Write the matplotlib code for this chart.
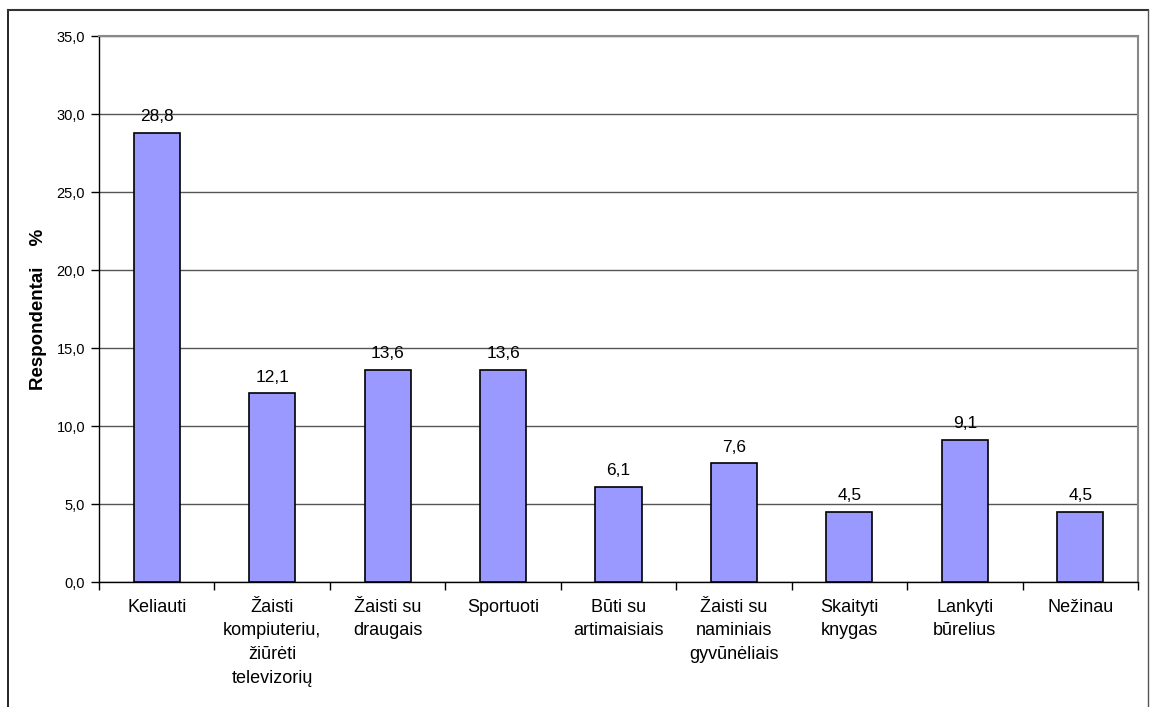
import numpy as np
import matplotlib.pyplot as plt

plt.rcParams["font.family"] = ["Liberation Sans", "DejaVu Sans"]

categories = [
    "Keliauti",
    "Žaisti\nkompiuteriu,\nžiūrėti\ntelevizorių",
    "Žaisti su\ndraugais",
    "Sportuoti",
    "Būti su\nartimaisiais",
    "Žaisti su\nnaminiais\ngyvūnėliais",
    "Skaityti\nknygas",
    "Lankyti\nbūrelius",
    "Nežinau",
]
values = [28.8, 12.1, 13.6, 13.6, 6.1, 7.6, 4.5, 9.1, 4.5]
yticks = [0, 5, 10, 15, 20, 25, 30, 35]

fig = plt.figure(figsize=(11.5, 7.07), dpi=100)
ax = fig.add_axes([99 / 1150, 1 - 582 / 707, (1138 - 99) / 1150, (582 - 36) / 707])

# outer chart frame (bottom is cut off in the original)
fig.add_artist(plt.Line2D([8 / 1150, 8 / 1150], [0, 1 - 10 / 707],
                          transform=fig.transFigure, color="black", lw=1.2))
fig.add_artist(plt.Line2D([8 / 1150, 1148 / 1150], [1 - 10 / 707, 1 - 10 / 707],
                          transform=fig.transFigure, color="#333333", lw=1.5))
fig.add_artist(plt.Line2D([1148 / 1150, 1148 / 1150], [0, 1 - 10 / 707],
                          transform=fig.transFigure, color="#555555", lw=1.0))

x = np.arange(len(categories))
ax.bar(x, values, width=0.4, color="#9999FF", edgecolor="black",
       linewidth=1.2, zorder=3)

for xi, v in zip(x, values):
    ax.text(xi, v + 0.55, f"{v:.1f}".replace(".", ","), ha="center",
            va="bottom", fontsize=12.5)

ax.set_xlim(-0.5, len(categories) - 0.5)
ax.set_ylim(0, 35)
ax.set_yticks(yticks)
ax.set_yticklabels([f"{t:.1f}".replace(".", ",") for t in yticks], fontsize=10.5)
ax.yaxis.grid(True, color="#555555", linewidth=1.0, zorder=0)
ax.set_axisbelow(True)

ax.set_xticks(x)
ax.set_xticklabels(categories, fontsize=13, linespacing=1.52, va="top")
ax.tick_params(axis="x", length=0, pad=12)
ax.set_xticks(np.arange(-0.5, len(categories), 1.0), minor=True)
ax.tick_params(axis="x", which="minor", length=6, width=1, direction="out")
ax.tick_params(axis="y", length=6, width=1, direction="out", pad=4)

for side in ["top", "right"]:
    ax.spines[side].set_color("#888888")
    ax.spines[side].set_linewidth(1.5)
ax.spines["left"].set_color("black")
ax.spines["bottom"].set_color("black")
ax.spines["left"].set_linewidth(1.0)
ax.spines["bottom"].set_linewidth(1.0)

ax.set_ylabel("Respondentai    %", fontsize=13.5, fontweight="bold", labelpad=7)

fig.savefig("out.png", dpi=100)
